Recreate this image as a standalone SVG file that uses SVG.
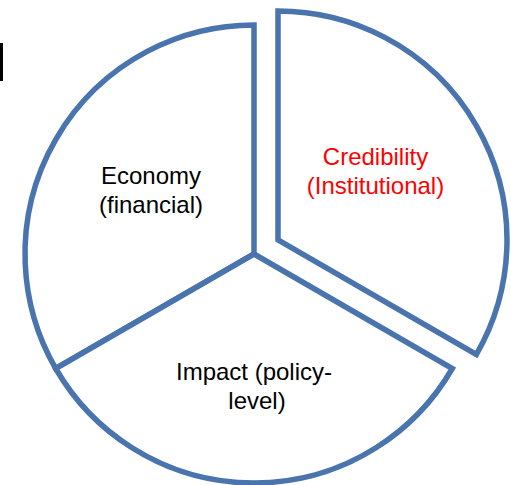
<svg xmlns="http://www.w3.org/2000/svg" width="511" height="485" viewBox="0 0 511 485">
<style>
.slice{fill:#ffffff;stroke:#4A74AD;stroke-width:5.5;stroke-linejoin:miter}
.lbl{font-family:"Liberation Sans",Arial,sans-serif;font-size:24px;text-anchor:middle;fill:#000000}
.red{fill:#FF0000}
</style>
<rect x="0" y="43" width="3" height="38" fill="#000000"/>
<g id="economy">
<path class="slice" d="M254,254 L55.7,368.5 A229,229 0 0 1 254,25 Z"/>
<text class="lbl" x="151" y="184">Economy</text>
<text class="lbl" x="151" y="213">(financial)</text>
</g>
<g id="impact">
<path class="slice" d="M254,254 L452.3,368.5 A229,229 0 0 1 55.7,368.5 Z"/>
<text class="lbl" x="254" y="380">Impact (policy-</text>
<text class="lbl" x="257" y="409">level)</text>
</g>
<g id="credibility">
<path class="slice" d="M278,240 L278,11 A229,229 0 0 1 476.3,354.5 Z"/>
<text class="lbl red" x="375.5" y="165">Credibility</text>
<text class="lbl red" x="375.5" y="194">(Institutional)</text>
</g>
<g id="connectors"></g>
</svg>
